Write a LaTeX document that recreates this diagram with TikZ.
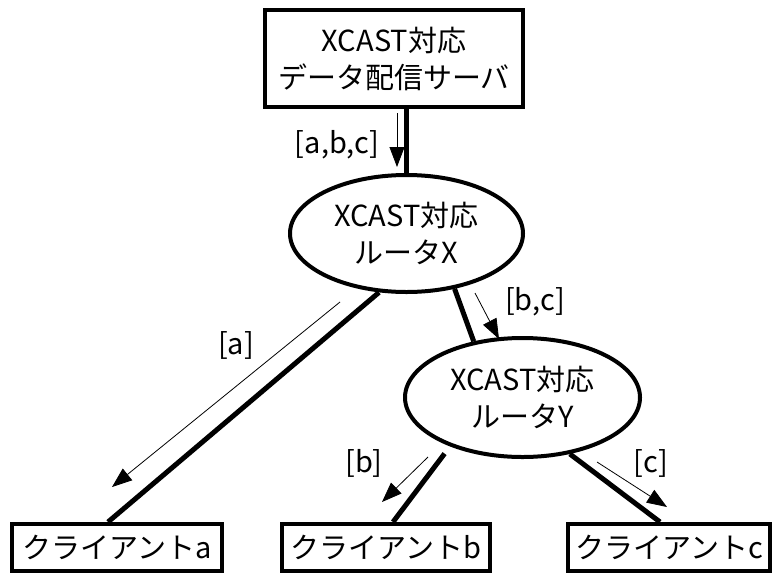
\documentclass[tikz,border=0pt]{standalone}
\usepackage{fontspec}
\setmainfont{Noto Sans CJK JP}
\usetikzlibrary{shapes.geometric,arrows.meta}
\begin{document}
\begin{tikzpicture}[x=1pt,y=-1pt,
  txt/.style={font=\fontsize{29}{37}\selectfont},
  box/.style={draw,line width=4pt,rectangle,inner sep=0pt,txt,align=center},
  router/.style={draw,line width=4pt,ellipse,inner sep=0pt,txt,align=center},
  link/.style={line width=5pt},
  flow/.style={line width=0.8pt,-{Triangle[length=20pt,width=15pt]}},
  lbl/.style={txt,inner sep=0pt}]
\useasboundingbox (0,0) rectangle (773,573);
% nodes
\node[box,minimum width=258pt,minimum height=97pt] (srv) at (394,58.5) {XCAST対応\\データ配信サーバ};
\node[router,minimum width=233pt,minimum height=117pt] (rx) at (406.5,233.5) {XCAST対応\\ルータX};
\node[router,minimum width=235pt,minimum height=119pt] (ry) at (522.5,397.5) {XCAST対応\\ルータY};
\node[box,minimum width=210pt,minimum height=47pt] (ca) at (117,547.5) {クライアントa};
\node[box,minimum width=208pt,minimum height=47pt] (cb) at (386,547.5) {クライアントb};
\node[box,minimum width=202pt,minimum height=47pt] (cc) at (669,547.5) {クライアントc};
% links
\draw[link] (rx.north |- srv.south) -- (rx.north);
\draw[link] (rx.245) -- ([xshift=-9pt]ca.north);
\draw[link] (rx.311) -- (ry.131);
\draw[link,shorten <=9pt] (ry.214) -- ([xshift=7pt]cb.north);
\draw[link] (ry.310) -- ([xshift=-9pt]cc.north);
% flow arrows
\coordinate (f0s) at (397,113); \coordinate (f0e) at (397,167);
\coordinate (f1s) at (475,293); \coordinate (f1e) at (499,339);
\coordinate (f2s) at (340,302); \coordinate (f2e) at (112,487);
\coordinate (f3s) at (428,457); \coordinate (f3e) at (382,502);
\coordinate (f4s) at (597,462); \coordinate (f4e) at (667,507);
\draw[flow] (f0s) -- (f0e);
\draw[flow] (f1s) -- (f1e);
\draw[flow] (f2s) -- (f2e);
\draw[flow] (f3s) -- (f3e);
\draw[flow] (f4s) -- (f4e);
% labels
\node[lbl] (labc) at (337,145) {[a,b,c]};
\node[lbl] (lbc) at (535,302) {[b,c]};
\node[lbl] (la) at (236,345) {[a]};
\node[lbl] (lb) at (364,463) {[b]};
\node[lbl] (lc) at (651,463) {[c]};
\end{tikzpicture}
\end{document}
